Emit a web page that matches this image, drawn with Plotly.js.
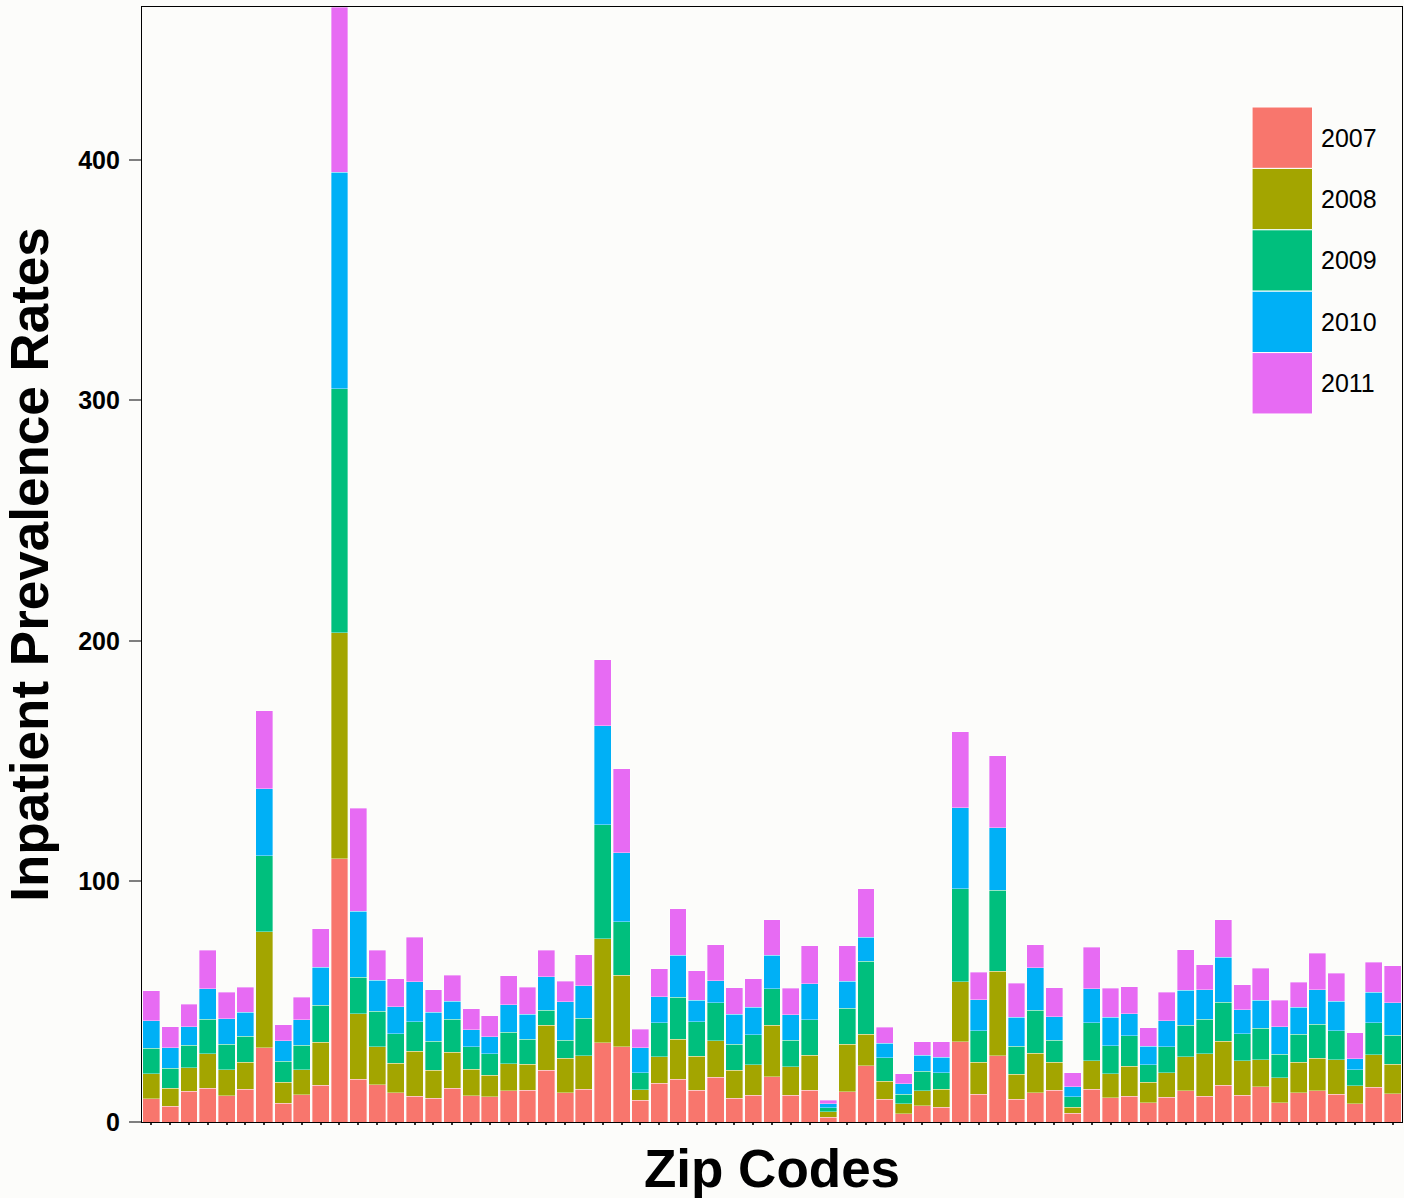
<!DOCTYPE html>
<html>
<head>
<meta charset="utf-8">
<script src="https://cdn.plot.ly/plotly-3.0.1.min.js"></script>
<style>
  html, body { margin: 0; padding: 0; background: #fcfcfa; }
  #chart { width: 1404px; height: 1198px; }
</style>
</head>
<body>
<div id="chart"></div>
<script>
// 67 zip codes (labels not shown on the original chart)
const zipCodes = Array.from({length: 67}, (_, i) => 'Zip ' + (i + 1));

const years = ['2007', '2008', '2009', '2010', '2011'];

const v2007 = [9.6, 6.5, 12.8, 14.0, 10.9, 13.7, 30.8, 7.9, 11.4, 15.2,
  109.4, 17.7, 15.5, 12.2, 10.8, 9.8, 14.0, 10.9, 10.5, 13.0,
  13.2, 21.5, 12.1, 13.7, 33.0, 31.2, 9.1, 16.2, 17.7, 13.2,
  18.7, 9.8, 11.2, 18.8, 11.1, 13.3, 1.9, 12.5, 23.3, 9.4,
  3.5, 6.7, 6.1, 33.3, 11.6, 27.6, 9.4, 12.2, 13.2, 3.6,
  13.7, 10.0, 10.7, 8.0, 10.3, 13.0, 10.8, 15.2, 11.2, 14.6,
  8.0, 12.2, 13.0, 11.6, 7.5, 14.4, 11.8];

const v2008 = [10.5, 7.6, 9.7, 14.3, 10.9, 11.2, 48.2, 8.6, 10.4, 17.9,
  93.9, 27.2, 15.7, 12.3, 18.6, 11.7, 15.1, 11.1, 9.0, 11.3,
  10.8, 18.8, 14.4, 13.9, 43.1, 29.9, 4.3, 11.0, 16.7, 14.1,
  15.1, 11.8, 12.5, 21.5, 11.8, 14.4, 2.3, 19.9, 13.2, 7.5,
  4.0, 6.3, 7.6, 24.9, 13.2, 35.0, 10.4, 16.4, 11.6, 2.6,
  11.8, 10.0, 12.4, 8.5, 10.2, 14.2, 17.6, 18.3, 14.2, 11.2,
  10.3, 12.6, 13.6, 14.2, 7.6, 13.5, 12.2];

const v2009 = [10.5, 8.2, 9.4, 14.4, 10.5, 10.7, 31.6, 8.7, 10.1, 15.4,
  101.5, 15.3, 14.8, 12.2, 12.3, 12.0, 13.6, 9.3, 8.9, 13.0,
  10.4, 6.1, 7.5, 15.5, 47.5, 22.2, 7.0, 14.1, 17.4, 14.4,
  15.7, 10.8, 12.6, 15.0, 11.1, 14.9, 1.8, 14.9, 30.3, 9.8,
  4.0, 8.2, 6.7, 38.7, 13.2, 33.7, 11.7, 17.8, 9.2, 4.3,
  15.8, 11.6, 12.8, 7.3, 10.8, 13.1, 14.3, 16.3, 11.2, 13.1,
  9.8, 11.7, 14.0, 12.2, 6.7, 13.3, 12.0];

const v2010 = [11.5, 8.5, 7.6, 12.7, 10.7, 10.0, 27.9, 8.6, 10.7, 15.9,
  90.0, 27.4, 13.0, 11.3, 16.7, 12.1, 7.5, 7.0, 7.1, 11.5,
  10.4, 14.0, 16.0, 13.6, 41.1, 28.6, 10.4, 10.8, 17.6, 9.0,
  9.3, 12.4, 11.5, 14.0, 10.6, 14.8, 1.6, 11.3, 10.1, 6.1,
  4.4, 6.5, 6.5, 33.7, 12.9, 26.1, 12.0, 17.8, 9.8, 4.2,
  14.1, 11.9, 9.0, 7.7, 10.8, 14.4, 12.2, 18.7, 10.0, 11.8,
  11.4, 11.3, 14.4, 12.2, 4.5, 12.7, 13.5];

const v2011 = [12.5, 8.8, 9.4, 16.0, 10.9, 10.4, 32.4, 6.7, 9.2, 16.0,
  68.7, 42.8, 12.5, 11.5, 18.5, 9.4, 10.8, 8.7, 8.6, 12.0,
  11.3, 11.1, 8.6, 12.9, 27.4, 34.9, 7.7, 11.7, 19.2, 12.2,
  14.8, 11.1, 11.7, 14.7, 11.1, 15.8, 1.4, 14.7, 20.0, 6.6,
  4.1, 5.6, 6.4, 31.6, 11.3, 29.8, 14.2, 9.4, 12.1, 5.7,
  17.2, 12.2, 11.4, 7.7, 11.8, 17.0, 10.5, 15.6, 10.4, 13.2,
  11.1, 10.3, 15.1, 11.6, 10.7, 12.5, 15.5];

const yTickVals = [0, 100, 200, 300, 400];
const yTickText = ['0', '100', '200', '300', '400'];

const colors = ['#F8766D', '#A3A500', '#00BF7D', '#00B0F6', '#E76BF3'];
const seriesValues = [v2007, v2008, v2009, v2010, v2011];

const traces = years.map((yr, i) => ({
  type: 'bar',
  name: yr,
  x: zipCodes,
  y: seriesValues[i],
  marker: { color: colors[i], line: { color: 'rgba(255,255,255,0.6)', width: 0.6 } },
  hoverinfo: 'x+y+name'
}));

// Manual legend with large swatches (like the ggplot original)
const legTop = 0.9103, legStep = 0.05506;
const shapes = years.map((yr, i) => ({
  type: 'rect', xref: 'paper', yref: 'paper',
  x0: 0.881, x1: 0.929,
  y0: legTop - (i + 1) * legStep, y1: legTop - i * legStep,
  fillcolor: colors[i], line: { color: '#ffffff', width: 1 }
}));
const annotations = years.map((yr, i) => ({
  xref: 'paper', yref: 'paper',
  x: 0.9345, y: legTop - (i + 0.5) * legStep,
  xanchor: 'left', yanchor: 'middle',
  text: yr, showarrow: false,
  font: { family: 'Liberation Sans, Arial, sans-serif', size: 25, color: '#000' }
}));

const layout = {
  width: 1404, height: 1198,
  barmode: 'stack',
  bargap: 0.1,
  showlegend: false,
  paper_bgcolor: '#fcfcfa',
  plot_bgcolor: '#fcfcfa',
  margin: { l: 142, r: 2, t: 7, b: 76 },
  font: { family: 'Liberation Sans, Arial, sans-serif', color: '#000' },
  xaxis: {
    type: 'category',
    showticklabels: false,
    ticks: 'outside', ticklen: 2, tickwidth: 1.5, tickcolor: '#333',
    showgrid: false, zeroline: false,
    showline: true, linecolor: '#000', linewidth: 1.2, mirror: true,
    title: { text: 'Zip Codes', standoff: 26,
      font: { family: 'Liberation Sans, Arial, sans-serif', size: 53, weight: 'bold', color: '#000' } }
  },
  yaxis: {
    range: [0, 463.5],
    tickvals: yTickVals, ticktext: yTickText,
    ticks: 'outside', ticklen: 12, tickwidth: 2, tickcolor: '#7f7f7f',
    ticklabelstandoff: 4,
    tickfont: { family: 'Liberation Sans, Arial, sans-serif', size: 25, weight: 'bold', color: '#000' },
    showgrid: false, zeroline: false,
    showline: true, linecolor: '#000', linewidth: 1.2, mirror: true,
    title: { text: 'Inpatient Prevalence Rates', standoff: 16,
      font: { family: 'Liberation Sans, Arial, sans-serif', size: 53, weight: 'bold', color: '#000' } }
  },
  shapes: shapes,
  annotations: annotations
};

Plotly.newPlot('chart', traces, layout, { displayModeBar: false, staticPlot: false });
</script>
</body>
</html>
